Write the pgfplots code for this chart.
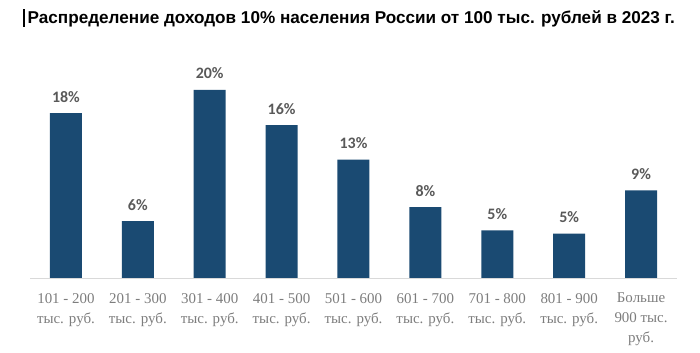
\documentclass[border=0pt]{standalone}
\usepackage{fontspec}
\setmainfont{Liberation Sans}
\newfontfamily\labfont{Carlito}
\newfontfamily\tickfont{Liberation Serif}
\usepackage{pgfplots}
\pgfplotsset{compat=1.18}
\usepackage{pgfplotstable}
\definecolor{barblue}{RGB}{26,74,114}
\definecolor{ticklab}{RGB}{125,125,125}
\definecolor{vallab}{RGB}{89,89,89}
\definecolor{axisgray}{RGB}{217,217,217}
\pgfplotstableread{
x y lab
0 17.7 18
1 6.1 6
2 20.2 20
3 16.4 16
4 12.7 13
5 7.6 8
6 5.1 5
7 4.75 5
8 9.4 9
}\datatable
\begin{document}
\begin{tikzpicture}
\useasboundingbox (0,0) rectangle (700bp,353bp);
\node[anchor=base west, inner sep=0, font=\bfseries\fontsize{17.2}{20}\selectfont] at (22.5bp,329bp)
  {\rule[-0.15em]{2.5bp}{1.05em}\hspace{2.5bp}Распределение доходов 10\% населения России от 100 тыс. рублей в 2023 г.};
\begin{axis}[
  at={(30bp,75bp)}, anchor=south west,
  scale only axis, width=647bp, height=218bp,
  xmin=-0.5, xmax=8.5, ymin=0, ymax=23.4,
  ybar, bar width=32bp,
  axis x line*=bottom, axis y line=none,
  x axis line style={axisgray, line width=1bp},
  xtick=data, major tick length=0,
  xticklabels={{101 - 200\\тыс. руб.},{201 - 300\\тыс. руб.},{301 - 400\\тыс. руб.},{401 - 500\\тыс. руб.},{501 - 600\\тыс. руб.},{601 - 700\\тыс. руб.},{701 - 800\\тыс. руб.},{801 - 900\\тыс. руб.},{Больше\\900 тыс.\\руб.}},
  xticklabel style={font=\tickfont\fontsize{15}{20}\selectfont, text=ticklab, align=center, anchor=north, inner sep=0pt, yshift=-15bp},
  point meta=explicit,
  /pgf/number format/assume math mode=true,
  nodes near coords={\pgfmathprintnumber{\pgfplotspointmeta}\%},
  every node near coord/.append style={font=\labfont\bfseries\fontsize{16}{19}\selectfont, text=vallab, anchor=base, yshift=11bp},
]
\addplot[fill=barblue, draw=none] table[x=x, y=y, meta=lab] {\datatable};
\end{axis}
\end{tikzpicture}
\end{document}
